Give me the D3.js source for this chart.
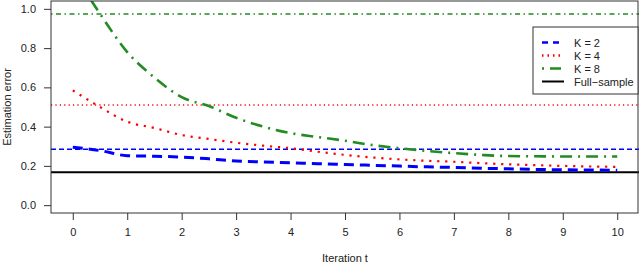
<html lang="en">
<head>
<meta charset="utf-8">
<title>Estimation error</title>
<script src="https://cdn.jsdelivr.net/npm/d3@7"></script>
<style>
  body { margin: 0; background: #fff; }
  text { font-family: "Liberation Sans", Arial, sans-serif; }
</style>
</head>
<body>
<script>
// values
var iteration = [0, 0.5, 1, 1.5, 2, 2.5, 3, 3.5, 4, 4.5, 5, 5.5, 6, 6.5, 7, 7.5, 8, 8.5, 9, 9.5, 10];
var errK2 = [0.295, 0.278, 0.252, 0.249, 0.245, 0.236, 0.225, 0.220, 0.216, 0.211, 0.207, 0.203, 0.199, 0.195, 0.192, 0.188, 0.185, 0.182, 0.180, 0.179, 0.178];
var errK4 = [0.585, 0.50, 0.425, 0.393, 0.357, 0.337, 0.318, 0.303, 0.290, 0.272, 0.256, 0.243, 0.233, 0.226, 0.221, 0.214, 0.208, 0.204, 0.200, 0.197, 0.195];
var errK8 = [1.19, 0.975, 0.78, 0.65, 0.55, 0.505, 0.445, 0.40, 0.367, 0.347, 0.328, 0.306, 0.290, 0.276, 0.265, 0.256, 0.250, 0.249, 0.248, 0.248, 0.248];
var oneShot = [0.285, 0.51, 0.974];   // horizontal reference per K
var fullSample = 0.168;
var seriesNames = ["K = 2", "K = 4", "K = 8", "Full\u2212sample"];
var colors = ["#0000ff", "#ff0000", "#228b22", "#000000"];
var xTicks = [0, 1, 2, 3, 4, 5, 6, 7, 8, 9, 10];
var yTicks = [0, 0.2, 0.4, 0.6, 0.8, 1.0];

var w = 640, h = 265;
var pL = 51, pR = 639, pT = 1, pB = 213;

var svg = d3.select("body").append("svg")
  .attr("width", w).attr("height", h);

var x = d3.scaleLinear().domain([-0.4, 10.4]).range([pL, pR]);
var y = d3.scaleLinear().domain([-0.04, 1.04]).range([pB, pT]);

svg.append("clipPath").attr("id", "plot")
  .append("rect").attr("x", pL).attr("y", pT)
  .attr("width", pR - pL).attr("height", pB - pT);

var g = svg.append("g").attr("clip-path", "url(#plot)");

// dash patterns for the flat lines and the curves
var flatDash = ["5,3", "1.2,3.2", "1.5,3.5,5,3.5"];
var curveDash = ["10,6", "2.2,5.8", "2,6,12,6"];
var curveWidth = [3, 2.2, 2.6];
var curves = [errK2, errK4, errK8];

oneShot.forEach(function(v, i) {
  g.append("line")
    .attr("x1", pL).attr("x2", pR)
    .attr("y1", y(v)).attr("y2", y(v))
    .attr("stroke", colors[i]).attr("stroke-width", 1.5)
    .attr("stroke-dasharray", flatDash[i]);
});

g.append("line")
  .attr("x1", pL).attr("x2", pR)
  .attr("y1", y(fullSample)).attr("y2", y(fullSample))
  .attr("stroke", "#000").attr("stroke-width", 2);

var line = d3.line()
  .x(function(d, i) { return x(iteration[i]); })
  .y(function(d) { return y(d); })
  .curve(d3.curveMonotoneX);

curves.forEach(function(c, i) {
  g.append("path")
    .attr("d", line(c))
    .attr("fill", "none")
    .attr("stroke", colors[i])
    .attr("stroke-width", curveWidth[i])
    .attr("stroke-dasharray", curveDash[i]);
});

// box
svg.append("rect")
  .attr("x", pL).attr("y", pT)
  .attr("width", pR - pL - 1).attr("height", pB - pT)
  .attr("fill", "none").attr("stroke", "#333").attr("stroke-width", 1);

var xAxis = d3.axisBottom(x).tickValues(xTicks).tickSize(7).tickPadding(8)
  .tickFormat(d3.format("d"));
var gX = svg.append("g")
  .attr("transform", "translate(0," + pB + ")")
  .call(xAxis);
gX.select(".domain").remove();

var yAxis = d3.axisLeft(y).tickValues(yTicks).tickSize(7).tickPadding(8)
  .tickFormat(d3.format(".1f"));
var gY = svg.append("g")
  .attr("transform", "translate(" + pL + ",0)")
  .call(yAxis);
gY.select(".domain").remove();

svg.selectAll(".tick line").attr("stroke", "#333");
svg.selectAll(".tick text")
  .attr("font-family", "Liberation Sans, Arial, sans-serif")
  .attr("font-size", 11).attr("fill", "#222");

svg.append("text")
  .attr("x", x(5)).attr("y", 262)
  .attr("text-anchor", "middle").attr("font-size", 11).attr("fill", "#222")
  .text("Iteration t");

svg.append("text")
  .attr("transform", "translate(11," + y(0.5) + ") rotate(-90)")
  .attr("text-anchor", "middle").attr("font-size", 11).attr("fill", "#222")
  .text("Estimation error");

// legend
var lg = svg.append("g");
lg.append("rect")
  .attr("x", 533).attr("y", 27).attr("width", 105).attr("height", 67)
  .attr("fill", "#fff").attr("stroke", "#333");

var legDash = ["6,5", "1.5,4", "2,6,11,6", null];
seriesNames.forEach(function(n, i) {
  var ly = 42.5 + i * 13;
  lg.append("line")
    .attr("x1", 542).attr("x2", 564)
    .attr("y1", ly).attr("y2", ly)
    .attr("stroke", colors[i]).attr("stroke-width", i == 3 ? 2 : 2.5)
    .attr("stroke-dasharray", legDash[i]);
  lg.append("text")
    .attr("x", 574).attr("y", ly + 4)
    .attr("font-size", 11).attr("fill", "#222")
    .text(n);
});
</script>
</body>
</html>
